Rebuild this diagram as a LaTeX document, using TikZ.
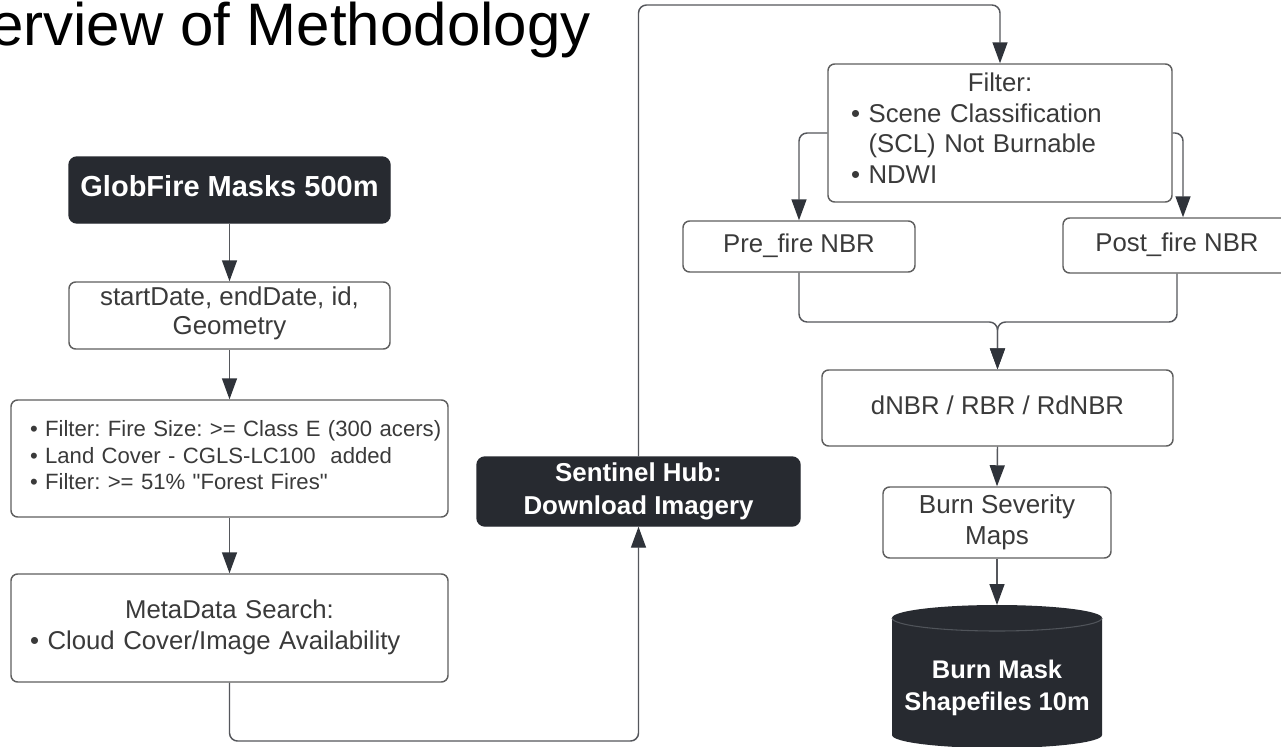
\documentclass[tikz,border=0pt]{standalone}
\usepackage{fontspec}
\setmainfont{Liberation Sans}
\usetikzlibrary{arrows.meta,calc}
\definecolor{darkbox}{HTML}{272A30}
\definecolor{txtgray}{HTML}{3A3A3A}
\definecolor{linegray}{HTML}{55575C}
\definecolor{tipdark}{HTML}{2F333A}
\definecolor{bordergray}{HTML}{5E5E5E}
\definecolor{rimgray}{HTML}{50545A}
\frenchspacing
\tikzset{
  wbox/.style={draw=bordergray, line width=1.1pt, rounded corners=5pt, fill=white, text=txtgray,
    inner sep=0pt, align=center, font=\fontsize{19.3pt}{23.25pt}\selectfont},
  dbox/.style={draw=darkbox, line width=1.1pt, fill=darkbox, rounded corners=6pt, text=white,
    inner sep=0pt, align=center, font=\bfseries\fontsize{19.4pt}{24.75pt}\selectfont},
  oneline/.style={text height=13.5pt, text depth=4.5pt},
  conn/.style={draw=linegray, line width=1.1pt, rounded corners=6pt,
    -{Triangle[length=15.75pt,width=11.25pt,color=tipdark]}},
}
\begin{document}
\begin{tikzpicture}[x=0.75pt,y=-0.75pt]
\useasboundingbox (0,0) rectangle (1281,746);
\fill[white] (0,0) rectangle (1281,746);

% title
\node[anchor=base west, inner sep=0pt, font=\fontsize{45pt}{54pt}\selectfont, text=black] (title) at (-10,45) {erview of Methodology};

% left column
\node[dbox, minimum width=240.75pt, minimum height=49.5pt, text height=15.75pt, text depth=5.7pt,
      font=\bfseries\fontsize{21.75pt}{26pt}\selectfont] (glob) at (229.5,190) {GlobFire Masks 500m};
\node[wbox, minimum width=240.75pt, minimum height=50.25pt, font=\fontsize{19.4pt}{21.75pt}\selectfont]
      (start) at (229.5,315.5) {startDate, endDate, id,\\Geometry\rule[-7.8pt]{0pt}{0pt}};
\node[wbox, minimum width=327.75pt, minimum height=87.75pt, align=left, text width=299.25pt, inner xsep=14.25pt,
      font=\fontsize{16.6pt}{19.9pt}\selectfont] (filt1) at (229.5,458.5)
      {\mbox{\textbullet\ Filter: Fire Size: >= Class E (300 acers)}\\
       \textbullet\ Land Cover - CGLS-LC100\ \ added\\
       \textbullet\ Filter: >= 51\% \textquotedbl Forest Fires\textquotedbl\rule[-4.9pt]{0pt}{0pt}};
\node[wbox, minimum width=327.75pt, minimum height=81pt, align=left, text width=299.25pt, inner xsep=14.25pt]
      (meta) at (229.5,628)
      {\makebox[299.25pt]{MetaData Search:}\\
       \textbullet\ Cloud Cover/Image Availability\rule[-4.5pt]{0pt}{0pt}};

% middle
\node[dbox, minimum width=242.25pt, minimum height=51.75pt] (sent) at (638.5,491.5) {Sentinel Hub:\\Download Imagery};

% right column
\node[wbox, minimum width=258pt, minimum height=103.5pt, align=left, text width=223.5pt, inner xsep=17.25pt,
      font=\fontsize{19.3pt}{22.9pt}\selectfont] (filt2) at (1000,133)
      {\makebox[223.5pt]{Filter:}\\
       \textbullet\ Scene Classification\\
       \hphantom{\textbullet\ }(SCL) Not Burnable\\
       \textbullet\ NDWI\rule[-7pt]{0pt}{0pt}};
\node[wbox, oneline, minimum width=174pt, minimum height=38.25pt] (pre) at (799,246.5) {Pre\_fire NBR};
\node[wbox, oneline, minimum width=171pt, minimum height=41.25pt] (post) at (1177,245.5) {Post\_fire NBR};
\node[wbox, oneline, minimum width=263.25pt, minimum height=57pt] (dnbr) at (997.5,408) {dNBR / RBR / RdNBR};
\node[wbox, minimum width=171pt, minimum height=53.25pt, font=\fontsize{19.5pt}{23.25pt}\selectfont]
      (sev) at (997,522.5) {Burn Severity\\Maps};

% cylinder
\fill[darkbox] (892,618) -- (892,735) arc[start angle=180,end angle=0,x radius=105,y radius=13]
   -- (1102,618) arc[start angle=0,end angle=-180,x radius=105,y radius=13] -- cycle;
\draw[rimgray, line width=0.8pt] (892,618) arc[start angle=180,end angle=0,x radius=105,y radius=13];
\coordinate (cyltop) at (997,605);
\node[inner sep=0pt, align=center, text=white, font=\bfseries\fontsize{19.1pt}{24pt}\selectfont]
      (cyl) at (997,688.4) {Burn Mask\\Shapefiles 10m};

% helper coordinates
\coordinate (bot) at (638.5,741);
\coordinate (topr) at (1000,5);
\coordinate (mrg) at (997.5,322);

% connectors
\draw[conn] (glob.south) -- (start.north);
\draw[conn] (start.south) -- (filt1.north);
\draw[conn] (filt1.south) -- (meta.north);
\draw[conn] (meta.south) |- (bot) -- (sent.south);
\draw[conn] (sent.north) |- (topr) -- (filt2.north);
\draw[conn] (filt2.west) -| (pre.north);
\draw[conn] (filt2.east) -| ($(post.north)+(6,0)$);
\draw[conn] (pre.south) |- (mrg) -- (dnbr.north);
\draw[conn] (post.south) |- (mrg) -- (dnbr.north);
\draw[conn] (dnbr.south) -- (sev.north);
\draw[conn] (sev.south) -- (cyltop);
\end{tikzpicture}
\end{document}
